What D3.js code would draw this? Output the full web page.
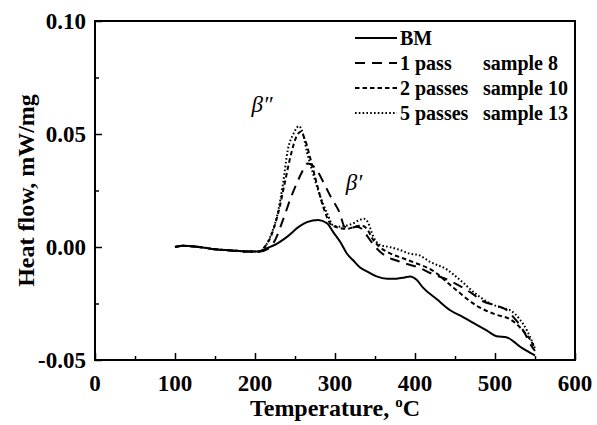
<!DOCTYPE html>
<html>
<head>
<meta charset="utf-8">
<script src="https://cdn.jsdelivr.net/npm/d3@7"></script>
<style>
  body { margin: 0; background: #fff; }
  text { font-family: "Liberation Serif", "Times New Roman", serif; font-weight: bold; fill: #000; }
</style>
</head>
<body>
<svg id="chart"></svg>
<script>
const width = 597;
const height = 425;
const margin = { top: 21, right: 22, bottom: 65, left: 95 };

// DSC curves: temperature (°C) and heat flow (mW/mg)
const bmT = [100, 110, 130, 150, 170, 190, 205, 215, 225, 240, 255, 265, 279, 290, 298, 307, 315, 323, 331, 341, 352, 365, 377, 387, 394, 402, 410, 427, 444, 460, 475, 490, 502, 515, 524, 531, 540, 550];
const bmH = [0.000, 0.0005, 0.000, -0.001, -0.0015, -0.002, -0.002, -0.0005, 0.001, 0.0045, 0.009, 0.011, 0.012, 0.0105, 0.0065, 0.002, -0.003, -0.006, -0.009, -0.011, -0.013, -0.014, -0.014, -0.0135, -0.013, -0.0145, -0.018, -0.023, -0.028, -0.031, -0.034, -0.037, -0.0395, -0.040, -0.042, -0.044, -0.046, -0.048];

const p1T = [100, 110, 130, 150, 170, 190, 205, 215, 225, 235, 245, 252, 260, 266, 272, 279, 285, 295, 306, 312, 320, 327, 335, 340, 346, 356, 366, 377, 390, 404, 419, 444, 469, 485, 502, 515, 523, 532, 540, 546, 550];
const p1H = [0.000, 0.0005, 0.000, -0.001, -0.0015, -0.002, -0.002, -0.001, 0.003, 0.012, 0.022, 0.028, 0.034, 0.037, 0.036, 0.033, 0.029, 0.022, 0.015, 0.009, 0.0085, 0.009, 0.0075, 0.005, 0.002, -0.002, -0.0045, -0.006, -0.0075, -0.009, -0.0115, -0.015, -0.020, -0.024, -0.026, -0.028, -0.031, -0.035, -0.040, -0.044, -0.046];

const p2T = [100, 110, 130, 150, 170, 190, 205, 212, 219, 229, 237, 245, 252, 257, 263, 270, 278, 286, 295, 305, 315, 325, 333, 340, 348, 356, 370, 385, 400, 420, 448, 477, 502, 519, 535, 544, 550];
const p2H = [0.000, 0.0005, 0.000, -0.001, -0.0015, -0.002, -0.002, 0.000, 0.004, 0.015, 0.028, 0.041, 0.049, 0.051, 0.047, 0.038, 0.027, 0.017, 0.010, 0.0085, 0.008, 0.009, 0.0095, 0.008, 0.003, 0.000, -0.003, -0.005, -0.007, -0.010, -0.018, -0.026, -0.030, -0.032, -0.037, -0.041, -0.045];

const p5T = [100, 110, 130, 150, 170, 190, 205, 210, 219, 229, 235, 241, 248, 255, 260, 265, 273, 279, 290, 298, 307, 315, 323, 331, 336, 341, 348, 356, 368, 381, 394, 404, 419, 440, 456, 477, 494, 510, 519, 531, 540, 544, 550];
const p5H = [0.000, 0.0005, 0.000, -0.001, -0.0015, -0.002, -0.002, -0.001, 0.0045, 0.016, 0.028, 0.043, 0.050, 0.0535, 0.050, 0.042, 0.032, 0.025, 0.015, 0.0095, 0.009, 0.0095, 0.0105, 0.012, 0.0125, 0.011, 0.0045, 0.001, 0.000, -0.0013, -0.003, -0.0035, -0.0066, -0.010, -0.0145, -0.021, -0.025, -0.027, -0.028, -0.032, -0.037, -0.040, -0.045];

const legendLabels = ["BM", "1 pass", "2 passes", "5 passes"];
const legendSamples = ["", "sample 8", "sample 10", "sample 13"];
const xTicks = [0, 100, 200, 300, 400, 500, 600];
const yTicks = [-0.05, 0.00, 0.05, 0.10];

const series = [
  { t: bmT, h: bmH, dash: null, w: 2 },
  { t: p1T, h: p1H, dash: "10,7", w: 2 },
  { t: p2T, h: p2H, dash: "4.5,3", w: 2 },
  { t: p5T, h: p5H, dash: "1.6,2.2", w: 2 }
];

const svg = d3.select("#chart")
  .attr("width", width)
  .attr("height", height);

const x = d3.scaleLinear().domain([0, 600]).range([margin.left, width - margin.right]);
const y = d3.scaleLinear().domain([-0.05, 0.10]).range([height - margin.bottom, margin.top]);

// plot frame
svg.append("rect")
  .attr("x", x(0))
  .attr("y", y(0.10))
  .attr("width", x(600) - x(0))
  .attr("height", y(-0.05) - y(0.10))
  .attr("fill", "none")
  .attr("stroke", "#000")
  .attr("stroke-width", 2);

// x axis (ticks inward)
const xAxis = svg.append("g")
  .attr("transform", `translate(0,${y(-0.05)})`)
  .call(d3.axisBottom(x).tickValues(d3.range(0, 601, 50)).tickSize(-6).tickFormat(""));
xAxis.selectAll(".tick line").attr("stroke-width", 1.5)
  .attr("y2", d => d % 100 === 0 ? -7 : -4);
xAxis.select(".domain").remove();

svg.append("g").selectAll("text")
  .data(xTicks)
  .enter().append("text")
  .attr("x", d => x(d))
  .attr("y", y(-0.05) + 31)
  .attr("text-anchor", "middle")
  .style("font-size", "23px")
  .text(d => d);

// y axis (ticks inward)
const yAxis = svg.append("g")
  .attr("transform", `translate(${x(0)},0)`)
  .call(d3.axisLeft(y).tickValues(d3.range(-0.05, 0.1001, 0.025)).tickSize(-6).tickFormat(""));
yAxis.selectAll(".tick line").attr("stroke-width", 1.5)
  .attr("x2", (d, i) => i % 2 === 0 ? 7 : 4);
yAxis.select(".domain").remove();

svg.append("g").selectAll("text")
  .data(yTicks)
  .enter().append("text")
  .attr("x", x(0) - 9)
  .attr("y", d => y(d) + 8)
  .attr("text-anchor", "end")
  .style("font-size", "23px")
  .text(d => d.toFixed(2)); // plain hyphen for the minus, as in the original

// axis titles
const xTitle = svg.append("text")
  .attr("x", (x(0) + x(600)) / 2)
  .attr("y", 416)
  .attr("text-anchor", "middle")
  .style("font-size", "24px");
xTitle.append("tspan").text("Temperature, ");
xTitle.append("tspan").attr("dy", -9).style("font-size", "15px").text("o");
xTitle.append("tspan").attr("dy", 9).text("C");

svg.append("text")
  .attr("transform", `translate(34,${(y(0.10) + y(-0.05)) / 2}) rotate(-90)`)
  .attr("text-anchor", "middle")
  .style("font-size", "24px")
  .text("Heat flow, mW/mg");

// curves
const line = d3.line()
  .x(d => x(d[0]))
  .y(d => y(d[1]))
  .curve(d3.curveMonotoneX);

series.forEach(s => {
  svg.append("path")
    .datum(s.t.map((t, i) => [t, s.h[i]]))
    .attr("d", line)
    .attr("fill", "none")
    .attr("stroke", "#000")
    .attr("stroke-width", s.w)
    .attr("stroke-dasharray", s.dash);
});

// peak labels
svg.append("text")
  .attr("x", 262)
  .attr("y", 112)
  .attr("text-anchor", "middle")
  .style("font-size", "23px")
  .style("font-style", "italic")
  .style("font-weight", "normal")
  .text("β\u2033");

svg.append("text")
  .attr("x", 354)
  .attr("y", 190)
  .attr("text-anchor", "middle")
  .style("font-size", "23px")
  .style("font-style", "italic")
  .style("font-weight", "normal")
  .text("β\u2032");

// legend
const legend = svg.append("g");
series.forEach((s, i) => {
  const ly = 38 + i * 25;
  legend.append("line")
    .attr("x1", 355).attr("x2", 397)
    .attr("y1", ly).attr("y2", ly)
    .attr("stroke", "#000")
    .attr("stroke-width", s.w)
    .attr("stroke-dasharray", s.dash);
  legend.append("text")
    .attr("x", 400)
    .attr("y", ly + 7)
    .style("font-size", "20px")
    .text(legendLabels[i]);
  legend.append("text")
    .attr("x", 483)
    .attr("y", ly + 7)
    .style("font-size", "20px")
    .text(legendSamples[i]);
});
</script>
</body>
</html>
